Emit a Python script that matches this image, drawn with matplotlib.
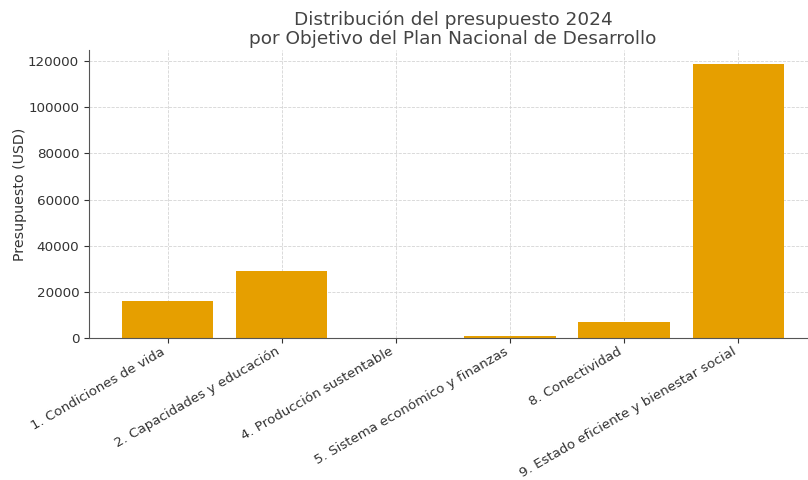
import matplotlib
matplotlib.use("Agg")
import matplotlib.pyplot as plt

objetivos = [
    "1. Condiciones de vida",
    "2. Capacidades y educación",
    "4. Producción sustentable",
    "5. Sistema económico y finanzas",
    "8. Conectividad",
    "9. Estado eficiente y bienestar social",
]
presupuesto = [16200, 29200, 100, 800, 6900, 118900]

text_color = "#333333"
plt.rcParams["font.family"] = "DejaVu Sans"
plt.rcParams["text.color"] = text_color
plt.rcParams["axes.labelcolor"] = text_color
plt.rcParams["xtick.color"] = text_color
plt.rcParams["ytick.color"] = text_color

fig = plt.figure(figsize=(8.08, 4.8), dpi=100)
ax = fig.add_axes([0.110, 0.296, 0.901, 0.600])

ax.bar(range(len(objetivos)), presupuesto, width=0.8, color="#E69F00", zorder=2)

ax.set_xticks(range(len(objetivos)))
ax.set_xticklabels(objetivos, rotation=30, ha="right", fontsize=9.6)
ax.tick_params(axis="x", pad=1.5, length=3.5)
ax.tick_params(axis="y", labelsize=9.7, length=3.5)
ax.set_ylabel("Presupuesto (USD)", fontsize=10.2, labelpad=1)
ax.set_title("Distribución del presupuesto 2024\npor Objetivo del Plan Nacional de Desarrollo",
             fontsize=13.3, color="#444444", pad=4, linespacing=1.1)

ax.grid(True, linestyle="--", color="#d4d4d4", linewidth=0.6, zorder=0)
ax.spines["top"].set_visible(False)
ax.spines["right"].set_visible(False)
ax.spines["left"].set_color("#555555")
ax.spines["bottom"].set_color("#555555")

fig.savefig("out.png", dpi=100)
